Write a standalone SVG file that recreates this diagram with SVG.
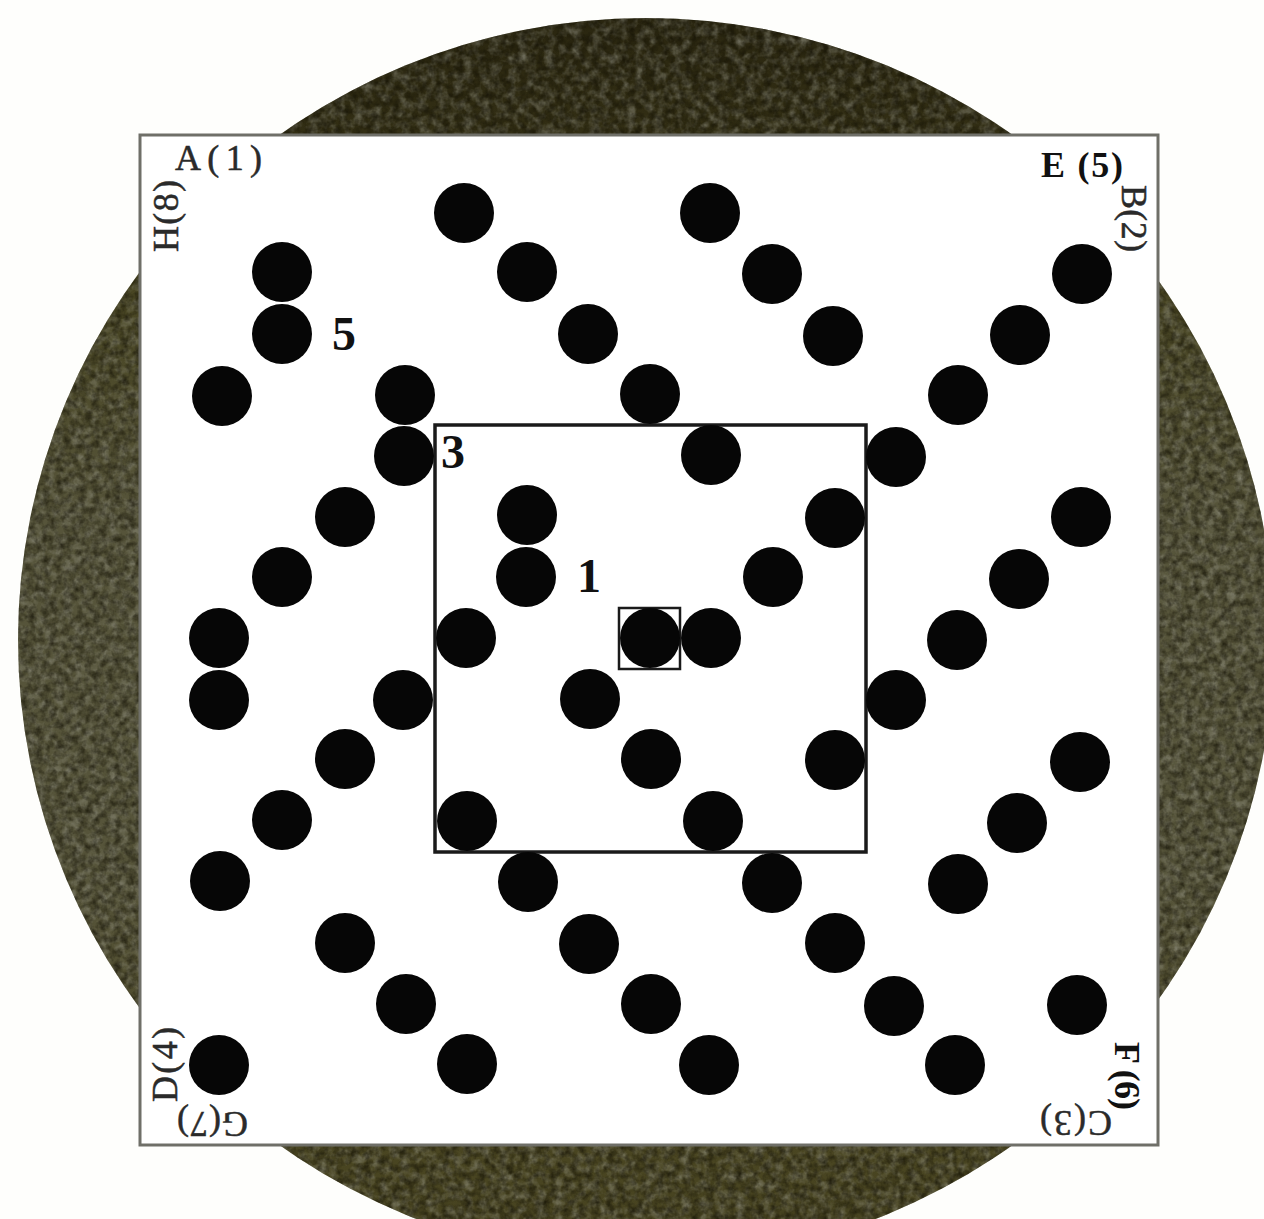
<svg xmlns="http://www.w3.org/2000/svg" width="1264" height="1219" viewBox="0 0 1264 1219">
<style>
text{font-family:"Liberation Serif","Times New Roman",serif;fill:#2a2a2a}
.lab{font-size:36px;stroke:#2a2a2a;stroke-width:.5}
.b{font-weight:bold;fill:#111;stroke:none}
.num{font-size:48px;font-weight:bold;fill:#111}
.dot{fill:#060606}
.frame{fill:#fff;stroke:#6f6f68;stroke-width:3}
.sq{fill:none;stroke:#1a1a1a}
</style>
<defs>
<filter id="grain" x="0" y="0" width="100%" height="100%" color-interpolation-filters="sRGB">
<feTurbulence type="fractalNoise" baseFrequency="0.11" numOctaves="3" seed="4" result="n"/>
<feColorMatrix in="n" type="matrix" values="0 0 0 0 0.6  0 0 0 0 0.6  0 0 0 0 0.55  0 0 0 1.1 -0.42" result="light"/>
<feComposite in="light" in2="SourceAlpha" operator="in" result="lightc"/>
<feTurbulence type="fractalNoise" baseFrequency="0.14" numOctaves="3" seed="11" result="m"/>
<feColorMatrix in="m" type="matrix" values="0 0 0 0 0.08  0 0 0 0 0.07  0 0 0 0 0.02  0 0 0 1.3 -0.45" result="dark"/>
<feComposite in="dark" in2="SourceAlpha" operator="in" result="darkc"/>
<feMerge><feMergeNode in="SourceGraphic"/><feMergeNode in="lightc"/><feMergeNode in="darkc"/></feMerge>
</filter>
<linearGradient id="disc" gradientUnits="userSpaceOnUse" x1="0" y1="18" x2="0" y2="1262">
<stop offset="0" stop-color="#2a2610"/>
<stop offset="0.09" stop-color="#322e14"/>
<stop offset="0.2" stop-color="#46431f"/>
<stop offset="0.4" stop-color="#56543a"/>
<stop offset="0.7" stop-color="#56543a"/>
<stop offset="0.9" stop-color="#4a4622"/>
<stop offset="1" stop-color="#45411f"/>
</linearGradient>
</defs>
<rect width="1264" height="1219" fill="#fefefc"/>
<ellipse id="disc-shape" cx="646" cy="640" rx="628" ry="622" fill="url(#disc)" filter="url(#grain)"/>
<rect id="sheet" class="frame" x="140" y="135" width="1018" height="1010"/>
<g id="frames">
<rect id="square-3" class="sq" x="435" y="425" width="431" height="427" stroke-width="3.5"/>
<rect id="square-1" class="sq" x="619" y="608" width="61" height="61" stroke-width="2.5"/>
</g>
<g id="dots">
<circle class="dot" cx="464" cy="213" r="30"/><circle class="dot" cx="710" cy="213" r="30"/>
<circle class="dot" cx="282" cy="272" r="30"/><circle class="dot" cx="527" cy="272" r="30"/><circle class="dot" cx="772" cy="274" r="30"/><circle class="dot" cx="1082" cy="274" r="30"/>
<circle class="dot" cx="282" cy="334" r="30"/><circle class="dot" cx="588" cy="334" r="30"/><circle class="dot" cx="833" cy="336" r="30"/><circle class="dot" cx="1020" cy="335" r="30"/>
<circle class="dot" cx="222" cy="396" r="30"/><circle class="dot" cx="405" cy="395" r="30"/><circle class="dot" cx="650" cy="394" r="30"/><circle class="dot" cx="958" cy="395" r="30"/>
<circle class="dot" cx="404" cy="456" r="30"/><circle class="dot" cx="711" cy="455" r="30"/><circle class="dot" cx="896" cy="457" r="30"/>
<circle class="dot" cx="345" cy="517" r="30"/><circle class="dot" cx="527" cy="515" r="30"/><circle class="dot" cx="835" cy="518" r="30"/><circle class="dot" cx="1081" cy="517" r="30"/>
<circle class="dot" cx="282" cy="577" r="30"/><circle class="dot" cx="526" cy="577" r="30"/><circle class="dot" cx="773" cy="577" r="30"/><circle class="dot" cx="1019" cy="579" r="30"/>
<circle class="dot" cx="219" cy="638" r="30"/><circle class="dot" cx="466" cy="638" r="30"/><circle class="dot" cx="650" cy="638" r="30"/><circle class="dot" cx="711" cy="638" r="30"/><circle class="dot" cx="957" cy="640" r="30"/>
<circle class="dot" cx="219" cy="700" r="30"/><circle class="dot" cx="403" cy="700" r="30"/><circle class="dot" cx="590" cy="699" r="30"/><circle class="dot" cx="896" cy="700" r="30"/>
<circle class="dot" cx="345" cy="759" r="30"/><circle class="dot" cx="651" cy="759" r="30"/><circle class="dot" cx="835" cy="760" r="30"/><circle class="dot" cx="1080" cy="762" r="30"/>
<circle class="dot" cx="282" cy="820" r="30"/><circle class="dot" cx="467" cy="821" r="30"/><circle class="dot" cx="713" cy="821" r="30"/><circle class="dot" cx="1017" cy="823" r="30"/>
<circle class="dot" cx="220" cy="881" r="30"/><circle class="dot" cx="528" cy="882" r="30"/><circle class="dot" cx="772" cy="883" r="30"/><circle class="dot" cx="958" cy="884" r="30"/>
<circle class="dot" cx="345" cy="943" r="30"/><circle class="dot" cx="589" cy="944" r="30"/><circle class="dot" cx="835" cy="943" r="30"/>
<circle class="dot" cx="406" cy="1004" r="30"/><circle class="dot" cx="651" cy="1004" r="30"/><circle class="dot" cx="894" cy="1006" r="30"/><circle class="dot" cx="1077" cy="1005" r="30"/>
<circle class="dot" cx="219" cy="1065" r="30"/><circle class="dot" cx="467" cy="1064" r="30"/><circle class="dot" cx="709" cy="1065" r="30"/><circle class="dot" cx="955" cy="1065" r="30"/>
</g>
<g id="labels">
<text class="lab" x="175" y="170" textLength="87">A(1)</text>
<text class="lab b" x="1041" y="177" textLength="82">E (5)</text>
<text class="lab" transform="translate(1122,185) rotate(90)" textLength="67">B(2)</text>
<text class="lab" transform="translate(178,252) rotate(-90)" textLength="72">H(8)</text>
<text class="lab" transform="translate(177,1102) rotate(-90)" textLength="75">D(4)</text>
<text class="lab" transform="translate(248,1112) rotate(180)" textLength="71">G(7)</text>
<text class="lab b" transform="translate(1115,1042) rotate(90)" textLength="68">F (6)</text>
<text class="lab" transform="translate(1112,1111) rotate(180)" textLength="72">C(3)</text>
<text class="num" x="332" y="350">5</text>
<text class="num" x="441" y="468">3</text>
<text class="num" x="577" y="592">1</text>
</g>
</svg>
